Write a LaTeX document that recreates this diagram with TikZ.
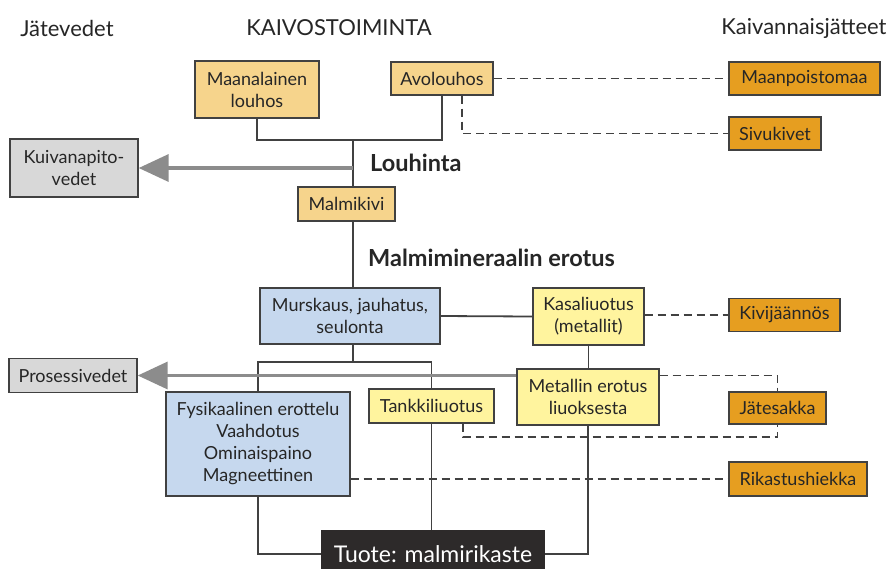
\documentclass[tikz,border=0pt]{standalone}
\usepackage{fontspec}
\setmainfont{Lato}
\usetikzlibrary{arrows.meta}
\definecolor{lorange}{RGB}{246,212,140}
\definecolor{dorange}{RGB}{230,158,32}
\definecolor{greyb}{RGB}{216,216,216}
\definecolor{blueb}{RGB}{198,216,238}
\definecolor{yellowb}{RGB}{255,244,158}
\definecolor{linec}{RGB}{65,65,65}
\definecolor{arrowc}{RGB}{140,140,140}
\definecolor{txt}{RGB}{38,38,38}
\definecolor{darkb}{RGB}{45,42,42}
\tikzset{
  box/.style={draw=linec, line width=1.4pt, inner sep=0pt, align=center, text=txt,
    font=\fontsize{18}{22}\selectfont},
  lor/.style={box, fill=lorange},
  dor/.style={box, fill=dorange},
  gr/.style={box, fill=greyb},
  bl/.style={box, fill=blueb},
  ye/.style={box, fill=yellowb},
  hdr/.style={text=txt, inner sep=0pt, font=\fontsize{22}{26}\selectfont},
  sect/.style={text=txt, inner sep=0pt, anchor=west, font=\bfseries\fontsize{23.5}{26}\selectfont},
  conn/.style={draw=linec, line width=1.8pt},
  dsh/.style={draw=linec, line width=1.8pt, dash pattern=on 8pt off 5pt},
  warrow/.style={draw=arrowc, line width=3.5pt, -{Triangle[length=30pt,width=27pt]}},
}
\begin{document}
\begin{tikzpicture}[x=1pt,y=-1pt]
\clip (0,0) rectangle (890,568);
\fill[white] (0,0) rectangle (890,568);

% headers
\node[hdr] (h1) at (67,28) {Jätevedet};
\node[hdr] (h2) at (339,28) {KAIVOSTOIMINTA};
\node[hdr] (h3) at (804,28) {Kaivannaisjätteet};
\node[sect] (s1) at (370,163) {Louhinta};
\node[sect] (s2) at (368,258) {Malmimineraalin erotus};

% boxes
\node[lor, minimum width=124pt, minimum height=57pt] (maan) at (257,89.5) {Maanalainen\\louhos};
\node[lor, minimum width=102pt, minimum height=33pt] (avo) at (442,78.5) {Avolouhos};
\node[gr, minimum width=128pt, minimum height=58pt] (kuiv) at (74,168) {Kuivanapito-\\vedet};
\node[lor, minimum width=97pt, minimum height=34pt] (malmi) at (346.5,204) {Malmikivi};
\node[dor, minimum width=151pt, minimum height=33pt] (mpm) at (804.5,78.5) {Maanpoistomaa};
\node[dor, minimum width=92pt, minimum height=33pt] (sivu) at (775,133.5) {Sivukivet};
\node[bl, minimum width=180pt, minimum height=56pt] (mursk) at (350,316) {Murskaus, jauhatus,\\seulonta};
\node[ye, minimum width=111pt, minimum height=57pt] (kasa) at (588.5,316.5) {Kasaliuotus\\(metallit)};
\node[dor, minimum width=111pt, minimum height=33pt] (kivi) at (784.5,315) {Kivijäännös};
\node[gr, minimum width=128pt, minimum height=34pt] (proses) at (73,375.5) {Prosessivedet};
\node[bl, minimum width=184pt, minimum height=104pt] (fys) at (258,444) {Fysikaalinen erottelu\\Vaahdotus\\Ominaispaino\\Magneettinen};
\node[ye, minimum width=125pt, minimum height=34pt] (tankki) at (431.5,406) {Tankkiliuotus};
\node[ye, minimum width=142pt, minimum height=56pt] (metal) at (588,397) {Metallin erotus\\liuoksesta};
\node[dor, minimum width=97pt, minimum height=32pt] (jate) at (777.5,408) {Jätesakka};
\node[dor, minimum width=138pt, minimum height=34pt] (rikas) at (798,479) {Rikastushiekka};
\node[box, fill=darkb, draw=darkb, text=white, minimum width=222pt, minimum height=46pt,
  font=\fontsize{23}{26}\selectfont] (tuote) at (433,554) {Tuote: malmirikaste};

% helper coordinates
\coordinate (j1) at (353,140);
\coordinate (j2) at (353,362);
\coordinate (d1) at (463,437);

% solid connectors
\draw[conn] (maan.south) |- (avo.south |- j1) -- (avo.south);
\draw[conn] (j1) -- (j1 |- malmi.north);
\draw[conn] (j1 |- malmi.south) -- (j1 |- mursk.north);
\draw[conn] (mursk.east) -- (kasa.west);
\draw[conn] (mursk.south -| j2) -- (j2);
\draw[conn] (fys.north) |- (tankki.north |- j2) -- (tankki.north);
\draw[conn] (tankki.south) -- (tankki.south |- tuote.north);
\draw[conn] (fys.south) |- (tuote.west);
\draw[conn] (kasa.south) -- (kasa.south |- metal.north);
\draw[conn] (metal.south) |- (tuote.east);

% dashed connectors
\draw[dsh] (avo.east) -- (mpm.west);
\draw[dsh] ([xshift=20pt]avo.south) |- (sivu.west);
\draw[dsh] (kasa.east |- kivi.west) -- (kivi.west);
\draw[dsh] (metal.east |- proses.east) -| (jate.north);
\draw[dsh] (tankki.south -| d1) -- (d1) -| (jate.south);
\draw[dsh] (fys.east |- rikas.west) -- (rikas.west);

% grey arrows
\draw[warrow] (j1 |- kuiv.east) -- (kuiv.east);
\draw[warrow] (metal.west |- proses.east) -- (proses.east);
\end{tikzpicture}
\end{document}
